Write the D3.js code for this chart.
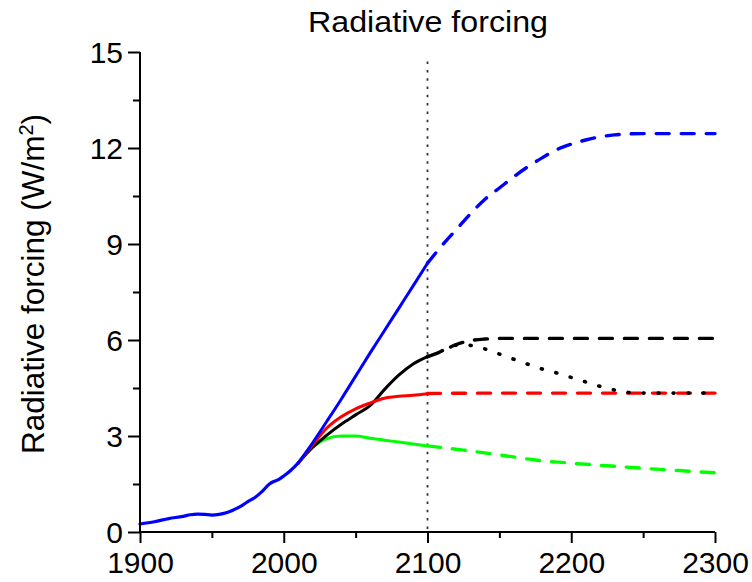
<!DOCTYPE html>
<html>
<head>
<meta charset="utf-8">
<script src="https://cdn.jsdelivr.net/npm/d3@7"></script>
<style>
  body { margin: 0; background: #fff; }
  svg text { font-family: "Liberation Sans", Arial, sans-serif; fill: #000; }
  .axis path, .axis line { stroke: #000; stroke-width: 2px; }
</style>
</head>
<body>
<svg id="chart" width="752" height="582"></svg>
<script>

// historical forcing, shared by all scenarios
var histYears  = [1900, 1910, 1920, 1930, 1935, 1940, 1945, 1950, 1955, 1960, 1965, 1970, 1975, 1980, 1985, 1990, 1993, 1996, 2000, 2005, 2010];
var histValues = [0.25, 0.32, 0.42, 0.49, 0.54, 0.56, 0.55, 0.53, 0.55, 0.6, 0.69, 0.8, 0.95, 1.08, 1.27, 1.5, 1.58, 1.63, 1.75, 1.93, 2.15];

// scenarios up to 2100 (solid)
var rcpYears  = [2010, 2020, 2030, 2040, 2050, 2060, 2070, 2080, 2090, 2100];
var rcp85     = [2.15, 2.78, 3.46, 4.15, 4.87, 5.59, 6.29, 6.99, 7.69, 8.4];
var rcp60     = [2.15, 2.64, 3.03, 3.37, 3.66, 3.95, 4.45, 4.9, 5.25, 5.48];
var rcp45     = [2.15, 2.72, 3.25, 3.6, 3.85, 4.03, 4.18, 4.24, 4.27, 4.32];
var rcp26     = [2.15, 2.65, 2.92, 3.0, 3.0, 2.93, 2.87, 2.81, 2.75, 2.69];

// extensions after 2100 (dashed / dotted)
var ext85Years = [2100, 2110, 2120, 2130, 2140, 2150, 2160, 2170, 2180, 2190, 2200, 2210, 2220, 2230, 2240, 2250, 2300];
var ext85      = [8.4, 8.95, 9.45, 9.95, 10.4, 10.75, 11.1, 11.42, 11.7, 11.95, 12.12, 12.25, 12.35, 12.41, 12.44, 12.45, 12.45];
var ext60Years = [2100, 2110, 2120, 2130, 2140, 2150, 2300];
var ext60      = [5.48, 5.65, 5.86, 5.98, 6.03, 6.05, 6.05];
var ext60to45Years = [2100, 2110, 2120, 2125, 2130, 2140, 2150, 2160, 2170, 2180, 2190, 2200, 2210, 2220, 2230, 2240, 2250, 2300];
var ext60to45      = [5.48, 5.66, 5.84, 5.86, 5.83, 5.72, 5.56, 5.4, 5.24, 5.09, 4.97, 4.83, 4.69, 4.55, 4.44, 4.36, 4.34, 4.34];
var ext45Years = [2100, 2150, 2200, 2250, 2300];
var ext45      = [4.33, 4.34, 4.34, 4.34, 4.34];
var ext26Years = [2100, 2125, 2150, 2175, 2200, 2225, 2250, 2275, 2300];
var ext26      = [2.69, 2.56, 2.41, 2.25, 2.15, 2.07, 1.99, 1.92, 1.85];

// axis ticks
var xTicks = [1900, 2000, 2100, 2200, 2300];
var xMinor = [1950, 2050, 2150, 2250];
var yTicks = [0, 3, 6, 9, 12, 15];
var yMinor = [1.5, 4.5, 7.5, 10.5, 13.5];

var svg = d3.select("#chart");

var x = d3.scaleLinear().domain([1900, 2300]).range([140, 715]);
var y = d3.scaleLinear().domain([0, 15]).range([532, 52]);

function zip(years, vals) {
  return years.map(function(yr, i) { return {year: yr, value: vals[i]}; });
}

var line = d3.line()
    .curve(d3.curveMonotoneX)
    .x(function(d) { return x(d.year); })
    .y(function(d) { return y(d.value); });

// dotted marker at 2100
svg.append("line")
    .attr("x1", x(2100)).attr("x2", x(2100))
    .attr("y1", y(14.7)).attr("y2", y(0))
    .attr("stroke", "#333")
    .attr("stroke-width", 1.8)
    .attr("stroke-dasharray", "2.5,5.8");

// all series: solid to 2100, dashed after
var series = [
  {data: zip(ext26Years, ext26), color: "#00ff00", dash: "13,12", width: 3.4},
  {data: zip(ext45Years, ext45), color: "#ff0000", dash: "13,12", width: 3.4},
  {data: zip(ext60to45Years, ext60to45), color: "#000", dash: "1,14", width: 3.6},
  {data: zip(ext60Years, ext60), color: "#000", dash: "13,12", width: 3.4},
  {data: zip(ext85Years, ext85), color: "#0000ff", dash: "13,12", width: 3.4},
  {data: zip(rcpYears, rcp26), color: "#00ff00", dash: null, width: 3},
  {data: zip(rcpYears, rcp60), color: "#000", dash: null, width: 3},
  {data: zip(rcpYears, rcp45), color: "#ff0000", dash: null, width: 3},
  {data: zip(rcpYears, rcp85), color: "#0000ff", dash: null, width: 3},
  {data: zip(histYears, histValues), color: "#0000ff", dash: null, width: 3.2}
];

svg.append("g").attr("class", "lines").selectAll("path")
    .data(series)
  .enter().append("path")
    .attr("d", function(d) { return line(d.data); })
    .attr("fill", "none")
    .attr("stroke", function(d) { return d.color; })
    .attr("stroke-width", function(d) { return d.width; })
    .attr("stroke-dasharray", function(d) { return d.dash; })
    .attr("stroke-linecap", "round");

// bottom axis with minor ticks
var xAxis = svg.append("g").attr("class", "axis")
    .attr("transform", "translate(0," + y(0) + ")")
    .call(d3.axisBottom(x).tickValues(xTicks.concat(xMinor)).tickSizeOuter(0)
      .tickFormat(function(d) { return xTicks.indexOf(d) >= 0 ? d : ""; }));
xAxis.selectAll(".tick line").attr("y2", function(d) { return xTicks.indexOf(d) >= 0 ? 11 : 6; });
xAxis.selectAll(".tick text").attr("y", 20).attr("dy", "0.71em")
    .style("font-size", "30px");

// left axis with minor ticks
var yAxis = svg.append("g").attr("class", "axis")
    .attr("transform", "translate(" + x(1900) + ",0)")
    .call(d3.axisLeft(y).tickValues(yTicks.concat(yMinor)).tickSizeOuter(0)
      .tickFormat(function(d) { return yTicks.indexOf(d) >= 0 ? d : ""; }));
yAxis.selectAll(".tick line").attr("x2", function(d) { return yTicks.indexOf(d) >= 0 ? -12 : -7; });
yAxis.selectAll(".tick text").attr("x", -17).attr("dy", "0.36em")
    .style("font-size", "30px");
yAxis.selectAll(".domain").attr("d", "M0," + y(15) + "V" + y(0));
xAxis.selectAll(".domain").attr("d", "M" + x(1900) + ",0H" + x(2300));

// title
svg.append("text")
    .attr("x", 428).attr("y", 32)
    .attr("text-anchor", "middle")
    .attr("textLength", 240)
    .attr("lengthAdjust", "spacingAndGlyphs")
    .style("font-size", "29px")
    .text("Radiative forcing");

// y label
var ylab = svg.append("text")
    .attr("transform", "translate(44,284) rotate(-90)")
    .attr("text-anchor", "middle")
    .style("font-size", "31.5px");
ylab.append("tspan").text("Radiative forcing (W/m");
ylab.append("tspan").attr("dy", "-0.55em").style("font-size", "20px").text("2");
ylab.append("tspan").attr("dy", "0.35em").text(")");

</script>
</body>
</html>
